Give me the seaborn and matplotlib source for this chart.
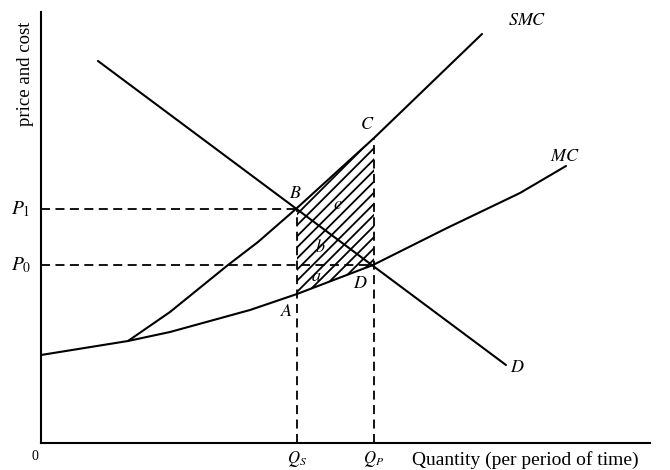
import numpy as np
import pandas as pd
import matplotlib
matplotlib.use("Agg")
import matplotlib.pyplot as plt
import seaborn as sns

# ---- data ----
mc_x = [0.0, 8.7, 12.9, 20.9, 25.6, 33.2, 40.6, 47.9, 52.5]
mc_y = [8.8, 10.2, 11.1, 13.3, 14.9, 17.8, 21.5, 25.0, 27.7]
smc_x = [8.7, 12.9, 18.7, 21.7, 25.6, 33.3, 35.9, 41.4, 44.1]
smc_y = [10.2, 13.1, 17.8, 20.1, 23.5, 30.5, 33.0, 38.3, 40.9]
d_x = [5.7, 46.5]
d_y = [38.2, 7.8]
Qs, Qp = 25.6, 33.3
P1, P0 = 23.4, 17.8
B = (25.6, 23.4)
C = (33.3, 30.5)
D = (33.3, 17.8)
A = (25.6, 14.9)

sns.set_theme(style="white")
plt.rcParams["font.family"] = ["Liberation Serif", "DejaVu Serif"]
plt.rcParams["mathtext.fontset"] = "stix"
plt.rcParams["hatch.linewidth"] = 1.3

fig = plt.figure(figsize=(6.7, 4.7), dpi=100)
ax = fig.add_axes([41 / 670, 27 / 470, 609 / 670, 431 / 470])

curves = pd.concat([
    pd.DataFrame({"x": mc_x, "y": mc_y, "curve": "MC"}),
    pd.DataFrame({"x": smc_x, "y": smc_y, "curve": "SMC"}),
    pd.DataFrame({"x": d_x, "y": d_y, "curve": "D"}),
])
for name, g in curves.groupby("curve"):
    sns.lineplot(data=g, x="x", y="y", ax=ax, color="black", lw=1.5,
                 sort=False, estimator=None)

# hatched welfare-loss area
ax.fill([B[0], C[0], D[0], A[0]], [B[1], C[1], D[1], A[1]],
        facecolor="none", edgecolor="black", hatch="///", linewidth=0)

dash = dict(color="black", lw=1.3, ls=(0, (5, 3)))
ax.plot([0, B[0]], [P1, P1], **dash)
ax.plot([0, D[0]], [P0, P0], **dash)
ax.plot([Qs, Qs], [0, B[1]], **dash)
ax.plot([Qp, Qp], [0, C[1]], **dash)

ax.set_xlim(0, 60.9)
ax.set_ylim(0, 43.1)
ax.set_xticks([])
ax.set_yticks([])
ax.set_xlabel("")
ax.set_ylabel("")
for s in ["top", "right"]:
    ax.spines[s].set_visible(False)
for s in ["left", "bottom"]:
    ax.spines[s].set_color("black")
    ax.spines[s].set_linewidth(1.5)

fs = 13
t = dict(clip_on=False, color="black", ha="center", va="center")
ax.text(-1.6, 36.9, "price and cost", rotation=90, fontsize=13.5, **t)
ax.text(-2.0, P1, r"$P_1$", fontsize=fs + 1, **t)
ax.text(-2.0, P0, r"$P_0$", fontsize=fs + 1, **t)
ax.text(-0.6, -1.4, "0", fontsize=10, **t)
ax.text(Qs, -1.6, r"$Q_S$", fontsize=12, **t)
ax.text(Qp, -1.6, r"$Q_P$", fontsize=12, **t)
ax.text(37.1, -1.7, "Quantity (per period of time)", fontsize=14,
        clip_on=False, color="black", ha="left", va="center")
ax.text(25.4, 24.9, r"$B$", fontsize=fs, **t)
ax.text(32.6, 31.8, r"$C$", fontsize=fs, **t)
ax.text(29.7, 23.8, r"$c$", fontsize=fs, **t)
ax.text(27.9, 19.5, r"$b$", fontsize=fs, **t)
ax.text(27.5, 16.6, r"$a$", fontsize=fs, **t)
ax.text(31.9, 16.0, r"$D$", fontsize=fs, **t)
ax.text(24.6, 13.1, r"$A$", fontsize=fs, **t)
ax.text(48.6, 42.2, r"$SMC$", fontsize=fs, **t)
ax.text(52.4, 28.6, r"$MC$", fontsize=fs, **t)
ax.text(47.6, 7.5, r"$D$", fontsize=fs, **t)

fig.savefig("out.png", dpi=100)
